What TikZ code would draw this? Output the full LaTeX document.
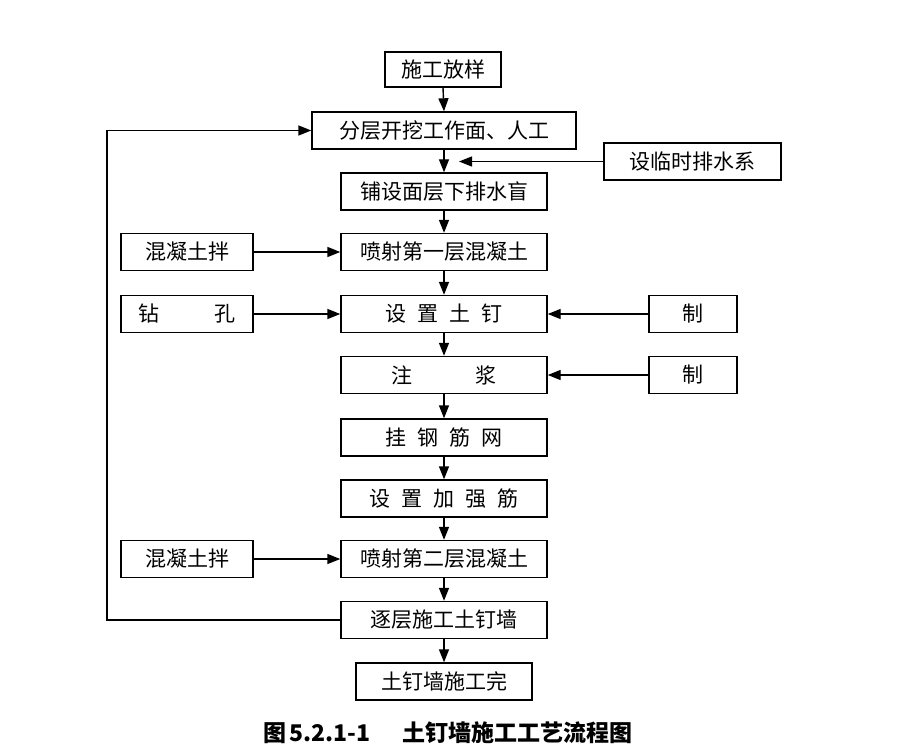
\documentclass[tikz,border=0pt]{standalone}
\usepackage{fontspec}
\newfontfamily\cjk{Noto Sans CJK SC}
\usetikzlibrary{arrows.meta}
\newcommand{\gap}{\hspace{0.52em}}
\begin{document}
\begin{tikzpicture}[x=1pt,y=-1pt,
    box/.style={draw,line width=1.4pt,minimum height=37pt,inner sep=0pt,font=\cjk\fontsize{21}{24}\selectfont},
    arr/.style={line width=1.4pt,-{Triangle[length=13pt,width=10pt]}}]
    \useasboundingbox (0,0) rectangle (904,754);

    \node[box,minimum width=116pt,minimum height=35pt] (fangyang) at (443,69.5) {施工放样};
    \node[box,minimum width=264pt] (kaiwa) at (444,130.5) {分层开挖工作面、人工};
    \node[box,minimum width=177pt] (paishui) at (692.5,161.5) {设临时排水系};
    \node[box,minimum width=206pt] (manggou) at (444,191.5) {铺设面层下排水盲};
    \node[box,minimum width=132pt] (jiaoban1) at (187,252) {混凝土拌};
    \node[box,minimum width=206pt] (penshe1) at (444,252) {喷射第一层混凝土};
    \node[box,minimum width=132pt] (zuankong) at (187,314) {钻\hspace{2.6em}孔};
    \node[box,minimum width=206pt] (tuding) at (444,314) {设\gap 置\gap 土\gap 钉};
    \node[box,minimum width=88pt] (zhi1) at (693,314) {制};
    \node[box,minimum width=206pt] (zhujiang) at (444,375) {注\hspace{3em}浆};
    \node[box,minimum width=88pt] (zhi2) at (693,375) {制};
    \node[box,minimum width=206pt] (guawang) at (444,437.5) {挂\gap 钢\gap 筋\gap 网};
    \node[box,minimum width=206pt] (jiaqiang) at (444,498.5) {设\gap 置\gap 加\gap 强\gap 筋};
    \node[box,minimum width=132pt] (jiaoban2) at (187,559) {混凝土拌};
    \node[box,minimum width=206pt] (penshe2) at (444,559) {喷射第二层混凝土};
    \node[box,minimum width=206pt] (zhuceng) at (444,620) {逐层施工土钉墙};
    \node[box,minimum width=176pt] (wan) at (444,681.5) {土钉墙施工完};
    \node[font=\cjk\bfseries\fontsize{23}{27}\selectfont] (caption) at (448,733) {图\hspace{0.15em}5.2.1-1\hspace{1.4em}土钉墙施工工艺流程图};

    \coordinate (hit) at (459,161.5);
    \coordinate (loop) at (107,620);

    \foreach \a/\b in {fangyang/kaiwa,kaiwa/manggou,manggou/penshe1,penshe1/tuding,tuding/zhujiang,
        zhujiang/guawang,guawang/jiaqiang,jiaqiang/penshe2,penshe2/zhuceng,zhuceng/wan}
        \draw[arr] (\a.south) -- (\b.north);
    \foreach \a/\b in {jiaoban1/penshe1,zuankong/tuding,jiaoban2/penshe2,zhi1/tuding,zhi2/zhujiang}
        \draw[arr] (\a) -- (\b);
    \draw[arr] (paishui.west) -- (hit);
    \draw[arr] (zhuceng.west) -- (loop) |- (kaiwa.west);
\end{tikzpicture}
\end{document}
